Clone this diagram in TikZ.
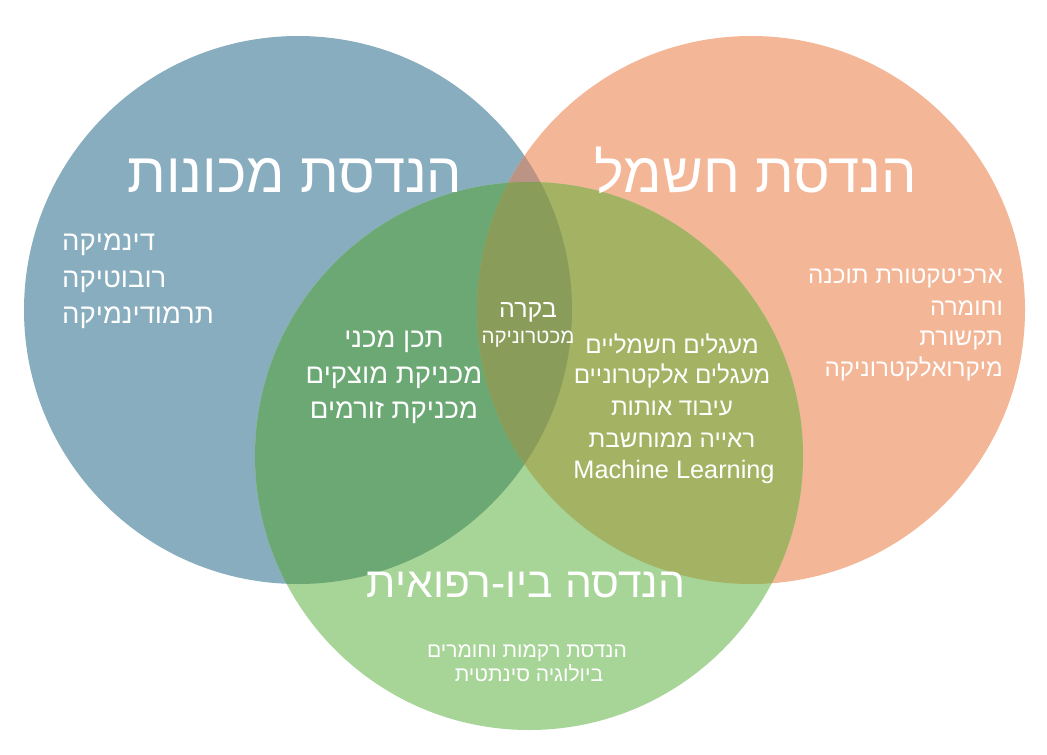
\documentclass[tikz,border=0pt]{standalone}
\usepackage{fontspec}
\setmainfont{Liberation Sans}
\newfontfamily\hebfont[Script=Hebrew]{Liberation Sans}
\TeXXeTstate=1
\newcommand{\hebtext}[1]{\hebfont\beginR #1\endR}
\definecolor{cblue}{HTML}{88ADBF}
\definecolor{corange}{HTML}{F3B697}
\definecolor{cgreen}{HTML}{A7D497}
\definecolor{cbg}{HTML}{6CA874}
\definecolor{cog}{HTML}{A3B363}
\definecolor{cbo}{HTML}{BC9486}
\definecolor{cbog}{HTML}{8A9C59}
\tikzset{
  lbl/.style={text=white, inner sep=0pt, anchor=base},
  bigtitle/.style={lbl, font=\fontsize{56}{66}\selectfont},
  midtitle/.style={lbl, font=\fontsize{42.5}{50}\selectfont},
  itemA/.style={lbl, font=\fontsize{27.5}{32}\selectfont},
  itemB/.style={lbl, font=\fontsize{24.2}{29}\selectfont},
  itemC/.style={lbl, font=\fontsize{24.2}{29}\selectfont},
  itemM/.style={lbl, font=\fontsize{25.3}{30}\selectfont},
  itemK/.style={lbl, font=\fontsize{25}{30}\selectfont},
  itemS/.style={lbl, font=\fontsize{20.5}{24}\selectfont},
  itemD/.style={lbl, font=\fontsize{21}{25}\selectfont}
}
\def\circR{274pt}
\begin{document}
\begin{tikzpicture}[x=1pt,y=-1pt]
\useasboundingbox (0,0) rectangle (1047,755);
\coordinate (cb) at (298,310);
\coordinate (co) at (751,310);
\coordinate (cg) at (529,456);
\fill[cblue] (cb) circle[radius=\circR];
\fill[corange] (co) circle[radius=\circR];
\fill[cgreen] (cg) circle[radius=\circR];
\begin{scope}
  \clip (cb) circle[radius=\circR];
  \fill[cbo] (co) circle[radius=\circR];
  \fill[cbg] (cg) circle[radius=\circR];
\end{scope}
\begin{scope}
  \clip (co) circle[radius=\circR];
  \fill[cog] (cg) circle[radius=\circR];
\end{scope}
\begin{scope}
  \clip (cb) circle[radius=\circR];
  \clip (co) circle[radius=\circR];
  \fill[cbog] (cg) circle[radius=\circR];
\end{scope}
% titles
\node[bigtitle] (tmech) at (295,192) {\hebtext{הנדסת מכונות}};
\node[bigtitle] (telec) at (756,192) {\hebtext{הנדסת חשמל}};
\node[midtitle] (tbio) at (526,597) {\hebtext{הנדסה ביו-רפואית}};
% mechanical list
\node[itemA, anchor=base west] (m1) at (62,250) {\hebtext{דינמיקה}};
\node[itemA, anchor=base west] (m2) at (62,287) {\hebtext{רובוטיקה}};
\node[itemA, anchor=base west] (m3) at (62,323) {\hebtext{תרמודינמיקה}};
% electrical list
\node[itemB, anchor=base east] (e1) at (1003,283) {\hebtext{ארכיטקטורת תוכנה}};
\node[itemB, anchor=base east] (e2) at (1003,315) {\hebtext{וחומרה}};
\node[itemB, anchor=base east] (e3) at (1003,345) {\hebtext{תקשורת}};
\node[itemB, anchor=base east] (e4) at (1003,376) {\hebtext{מיקרואלקטרוניקה}};
% mechanical + bio
\node[itemA] (mb1) at (394,347) {\hebtext{תכן מכני}};
\node[itemA] (mb2) at (394,383) {\hebtext{מכניקת מוצקים}};
\node[itemA] (mb3) at (394,418) {\hebtext{מכניקת זורמים}};
% center
\node[itemK] (c1) at (528,317) {\hebtext{בקרה}};
\node[itemS] (c2) at (528,343) {\hebtext{מכטרוניקה}};
% electrical + bio
\node[itemC] (eb1) at (672,353) {\hebtext{מעגלים חשמליים}};
\node[itemC] (eb2) at (672,383) {\hebtext{מעגלים אלקטרוניים}};
\node[itemC] (eb3) at (672,415) {\hebtext{עיבוד אותות}};
\node[itemC] (eb4) at (672,447) {\hebtext{ראייה ממוחשבת}};
\node[itemM] (eb5) at (674,478) {Machine Learning};
% bio list
\node[itemD] (b1) at (527,657) {\hebtext{הנדסת רקמות וחומרים}};
\node[itemD] (b2) at (529,681) {\hebtext{ביולוגיה סינתטית}};
\end{tikzpicture}
\end{document}
